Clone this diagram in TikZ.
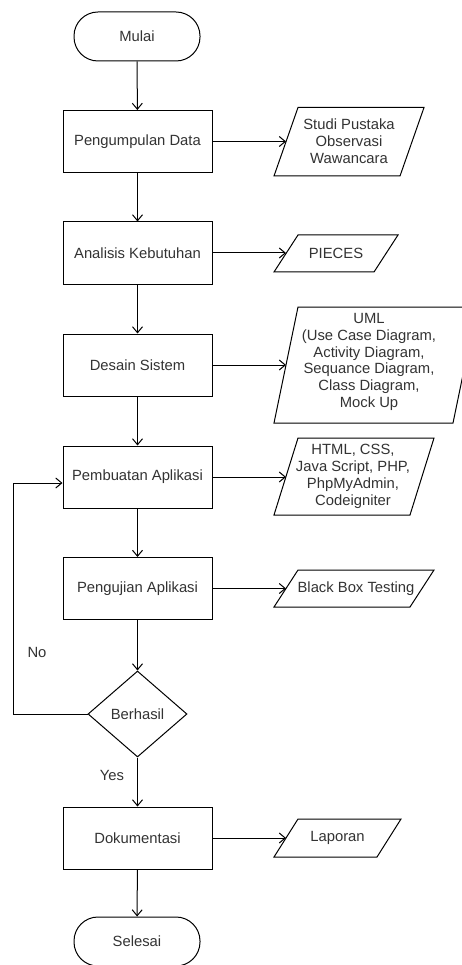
\documentclass[tikz,border=0pt]{standalone}
\usepackage{fontspec}
\setmainfont{Liberation Sans}
\usetikzlibrary{arrows.meta,shapes.geometric,calc}
\begin{document}
\begin{tikzpicture}[x=1pt,y=-1pt,line width=1pt,
  every node/.style={font=\fontsize{14.8}{16.8}\selectfont, text=black!80, inner sep=0pt, align=center},
  proc/.style={draw, minimum width=149pt, minimum height=62pt},
  term/.style={draw, rounded corners=24pt, minimum width=126pt, minimum height=49pt},
  dec/.style={draw, diamond, minimum width=99pt, minimum height=86pt},
  iobox/.style={draw, line join=miter},
  arr/.style={-{Straight Barb[length=6pt,width=10pt]}},
  lbl/.style={}]
\clip (0,0) rectangle (462,965);
\fill[white] (0,0) rectangle (462,965);

% main column
\node[term] (s) at (137,36.5) {Mulai};
\node[proc] (b1) at (137.5,141.5) {Pengumpulan Data};
\node[proc] (b2) at (137.5,253) {Analisis Kebutuhan};
\node[proc] (b3) at (137.5,365) {Desain Sistem};
\node[proc] (b4) at (137.5,477) {Pembuatan Aplikasi};
\node[proc] (b5) at (137.5,588.5) {Pengujian Aplikasi};
\node[dec] (d) at (137.5,714) {Berhasil};
\node[proc] (b6) at (137.5,838) {Dokumentasi};
\node[term] (e) at (137,941.5) {Selesai};

% parallelograms
\draw[iobox] (274,176) -- (400,176) -- (424,107.5) -- (298,107.5) -- cycle;
\node (p1) at (349,141.5) {Studi Pustaka\\Observasi\\Wawancara};
\coordinate (p1w) at (286,141.5);

\draw[iobox] (274,272) -- (374,272) -- (398,235) -- (298,235) -- cycle;
\node (p2) at (336,253) {PIECES};
\coordinate (p2w) at (286,253);

\draw[iobox] (274,423) -- (453,423) -- (477,307) -- (298,307) -- cycle;
\node (p3) at (369,362) {UML\\(Use Case Diagram,\\Activity Diagram,\\Sequance Diagram,\\Class Diagram,\\Mock Up};
\coordinate (p3w) at (286,365);

\draw[iobox] (274,515) -- (410,515) -- (434,438) -- (298,438) -- cycle;
\node (p4) at (353,476.5) {HTML, CSS,\\Java Script, PHP,\\PhpMyAdmin,\\Codeigniter};
\coordinate (p4w) at (286,477);

\draw[iobox] (274,607) -- (410,607) -- (434,570) -- (298,570) -- cycle;
\node (p5) at (356,588.5) {Black Box Testing};
\coordinate (p5w) at (286,588.5);

\draw[iobox] (274,857) -- (377,857) -- (401,819) -- (298,819) -- cycle;
\node (p6) at (337.5,838) {Laporan};
\coordinate (p6w) at (286,838);

% vertical connectors
\draw[arr] (s) -- (b1);
\draw[arr] (b1) -- (b2);
\draw[arr] (b2) -- (b3);
\draw[arr] (b3) -- (b4);
\draw[arr] (b4) -- (b5);
\draw[arr] (b5) -- (d);
\draw[arr] (d) -- (b6);
\draw[arr] (b6) -- (e);

% horizontal connectors
\draw[arr] (b1.east) -- (p1w);
\draw[arr] (b2.east) -- (p2w);
\draw[arr] (b3.east) -- (p3w);
\draw[arr] (b4.east) -- (p4w);
\draw[arr] (b5.east) -- (p5w);
\draw[arr] (b6.east) -- (p6w);

% loop back
\coordinate (lA) at (13,714);
\coordinate (lB) at (13,483);
\draw[arr] (d.west) -- (lA) -- (lB) -- (b4.west |- lB);

\node[lbl] (no) at (37,652) {No};
\node[lbl] (yes) at (112,775) {Yes};
\end{tikzpicture}
\end{document}
